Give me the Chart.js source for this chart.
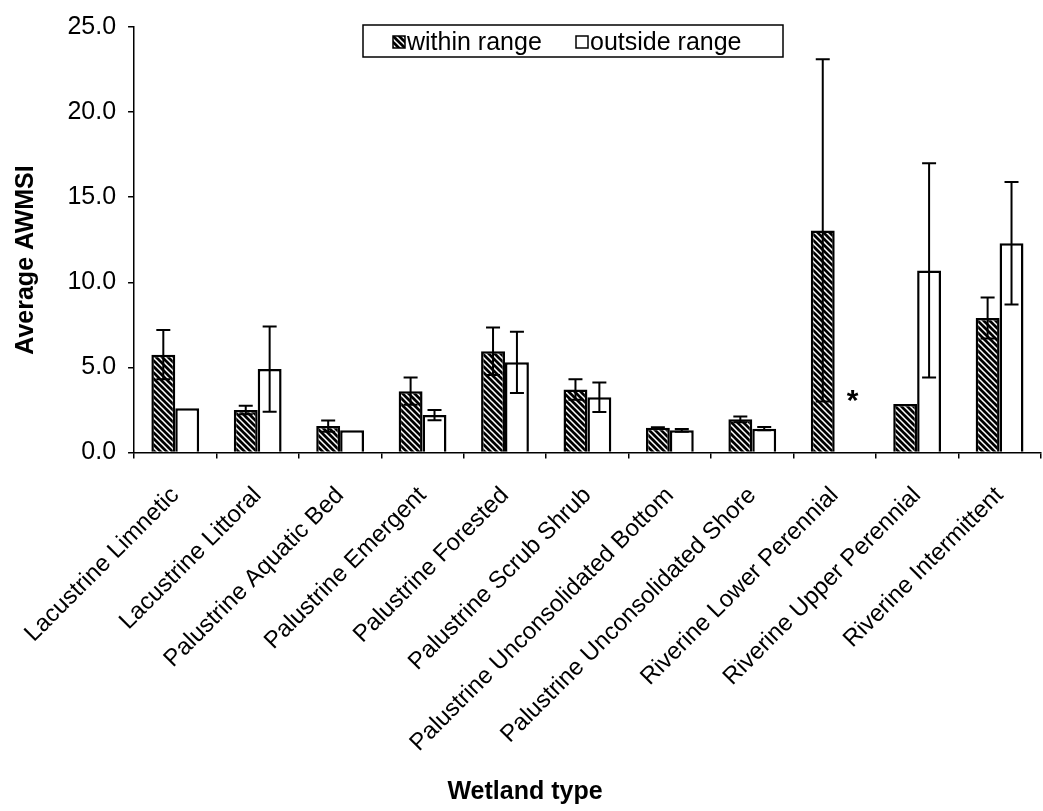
<!DOCTYPE html>
<html><head><meta charset="utf-8">
<style>html,body{margin:0;padding:0;background:#fff}</style>
<script src="https://cdn.jsdelivr.net/npm/chart.js@4.4.0/dist/chart.umd.min.js"></script>
</head><body>
<canvas id="c" width="1043" height="811" style="display:block"></canvas>
<script>
const categories = [
  "Lacustrine Limnetic", "Lacustrine Littoral", "Palustrine Aquatic Bed",
  "Palustrine Emergent", "Palustrine Forested", "Palustrine Scrub Shrub",
  "Palustrine Unconsolidated Bottom", "Palustrine Unconsolidated Shore",
  "Riverine Lower Perennial", "Riverine Upper Perennial", "Riverine Intermittent"
];
const seriesNames = ["within range", "outside range"];
const withinRange    = [5.75, 2.50, 1.55, 3.60, 5.95, 3.70, 1.45, 1.95, 13.05, 2.85, 7.90];
const withinRangeErr = [1.45, 0.25, 0.33, 0.80, 1.40, 0.60, 0.03, 0.17, 10.05, 0.00, 1.20];
const outsideRange    = [2.60, 4.90, 1.30, 2.20, 5.30, 3.25, 1.30, 1.40, null, 10.70, 12.30];
const outsideRangeErr = [0.00, 2.50, 0.00, 0.30, 1.80, 0.87, 0.08, 0.10, 0.00, 6.30, 3.60];
const yTickValues = [0, 5, 10, 15, 20, 25];
const noDataMarks = [{ category: "Riverine Lower Perennial", series: 1, symbol: "*", value: 3.2 }];
const xTitle = "Wetland type";
const yTitle = "Average AWMSI";

const FONT = "'Liberation Sans', Arial, Helvetica, sans-serif";

function makeHatch() {
  const s = 6;
  const p = document.createElement('canvas');
  p.width = s; p.height = s;
  const g = p.getContext('2d');
  g.fillStyle = '#000';
  g.fillRect(0, 0, s, s);
  g.strokeStyle = '#fff';
  g.lineWidth = 1.5;
  g.beginPath();
  g.moveTo(-1, -1); g.lineTo(s + 1, s + 1);
  g.moveTo(-1, s - 1); g.lineTo(1, s + 1);
  g.moveTo(s - 1, -1); g.lineTo(s + 1, 1);
  g.stroke();
  return g.createPattern(p, 'repeat');
}
const ctx0 = document.getElementById('c').getContext('2d');
const hatch = makeHatch();

const errorArrays = [withinRangeErr, outsideRangeErr];

const errorBarPlugin = {
  id: 'errorBars',
  afterDatasetsDraw(chart) {
    const ctx = chart.ctx;
    const y = chart.scales.y;
    ctx.save();
    ctx.strokeStyle = '#000';
    ctx.lineWidth = 2;
    chart.data.datasets.forEach((ds, di) => {
      const meta = chart.getDatasetMeta(di);
      meta.data.forEach((bar, i) => {
        const v = ds.data[i];
        const e = errorArrays[di][i];
        if (v == null || !e) return;
        const x = bar.x;
        const yt = y.getPixelForValue(v + e);
        const yb = y.getPixelForValue(v - e);
        const cap = 7;
        ctx.beginPath();
        ctx.moveTo(x, yt); ctx.lineTo(x, yb);
        ctx.moveTo(x - cap, yt); ctx.lineTo(x + cap, yt);
        ctx.moveTo(x - cap, yb); ctx.lineTo(x + cap, yb);
        ctx.stroke();
      });
    });
    noDataMarks.forEach(m => {
      const i = categories.indexOf(m.category);
      const bar = chart.getDatasetMeta(m.series).data[i];
      ctx.fillStyle = '#000';
      ctx.font = 'bold 30px ' + FONT;
      ctx.textAlign = 'center';
      ctx.textBaseline = 'alphabetic';
      ctx.fillText(m.symbol, bar.x + 6, y.getPixelForValue(m.value) + 12);
    });
    ctx.restore();
  }
};

const decorPlugin = {
  id: 'decor',
  afterDraw(chart) {
    const ctx = chart.ctx;
    ctx.save();
    const bx = 363, by = 25, bw = 420, bh = 32;
    ctx.fillStyle = '#fff';
    ctx.fillRect(bx, by, bw, bh);
    ctx.strokeStyle = '#000';
    ctx.lineWidth = 1.5;
    ctx.strokeRect(bx, by, bw, bh);
    ctx.font = '25px ' + FONT;
    ctx.textBaseline = 'middle';
    ctx.textAlign = 'left';
    ctx.fillStyle = hatch;
    ctx.fillRect(393, 36, 12, 12);
    ctx.lineWidth = 1.5;
    ctx.strokeRect(393, 36, 12, 12);
    ctx.fillStyle = '#000';
    ctx.fillText(seriesNames[0], 407, 43);
    ctx.fillStyle = '#fff';
    ctx.fillRect(576, 36, 12, 12);
    ctx.strokeRect(576, 36, 12, 12);
    ctx.fillStyle = '#000';
    ctx.fillText(seriesNames[1], 590, 43);
    ctx.font = 'bold 25px ' + FONT;
    ctx.textAlign = 'center';
    ctx.textBaseline = 'middle';
    ctx.fillText(xTitle, 525, 792);
    ctx.translate(26, 260);
    ctx.rotate(-Math.PI / 2);
    ctx.fillText(yTitle, 0, 0);
    ctx.restore();
  }
};

new Chart(ctx0, {
  type: 'bar',
  data: {
    labels: categories,
    datasets: [
      { label: seriesNames[0], data: withinRange, backgroundColor: hatch, borderColor: '#000', borderWidth: 2.5,
        categoryPercentage: 0.58, barPercentage: 1.0 },
      { label: seriesNames[1], data: outsideRange, backgroundColor: '#fff', borderColor: '#000', borderWidth: 2.5,
        categoryPercentage: 0.58, barPercentage: 1.0 }
    ]
  },
  options: {
    responsive: false,
    animation: false,
    devicePixelRatio: 1,
    layout: { padding: { left: 0, right: 1.5, top: 20, bottom: 0 } },
    plugins: { legend: { display: false }, tooltip: { enabled: false } },
    scales: {
      x: {
        grid: { display: true, drawOnChartArea: false, drawTicks: true, tickLength: 6, color: '#000', lineWidth: 1.5, offset: true },
        border: { display: true, color: '#000', width: 1.5 },
        ticks: { color: '#000', font: { family: FONT, size: 24 }, minRotation: 45, maxRotation: 45, autoSkip: false, padding: 23 },
        afterFit(s) { s.height = 811 - 452.5; }
      },
      y: {
        min: 0, max: 25,
        afterBuildTicks(s) { s.ticks = yTickValues.map(v => ({ value: v })); },
        grid: { display: true, drawOnChartArea: false, drawTicks: true, tickLength: 6, color: '#000', lineWidth: 1.5 },
        border: { display: true, color: '#000', width: 1.5 },
        ticks: { color: '#000', font: { family: FONT, size: 25 }, padding: 12, callback: v => Number(v).toFixed(1) },
        afterFit(s) { s.width = 134; }
      }
    }
  },
  plugins: [errorBarPlugin, decorPlugin]
});
</script>
</body></html>
